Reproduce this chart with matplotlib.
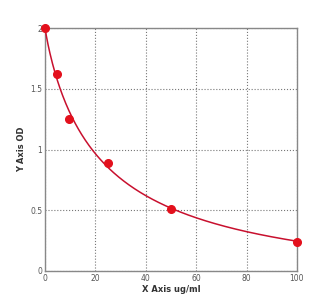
import numpy as np
import matplotlib
matplotlib.use('Agg')
import matplotlib.pyplot as plt

# standard curve points
conc = np.array([0, 4.9, 9.6, 25, 50, 100])
od = np.array([2.0, 1.62, 1.25, 0.89, 0.51, 0.24])

xticks = [0, 20, 40, 60, 80, 100]
yticks = [0, 0.5, 1, 1.5, 2]
yticklabels = ['0', '0.5', '1', '1.5', '2']


def fit_4pl(x, y):
    # grid over slope/midpoint, linear solve for top/bottom
    best = None
    for b in np.linspace(0.3, 3, 120):
        for c in np.linspace(1, 200, 400):
            g = 1.0 / (1.0 + (x / c) ** b)
            A = np.column_stack([g, 1 - g])
            coef, *_ = np.linalg.lstsq(A, y, rcond=None)
            err = np.sum((A @ coef - y) ** 2)
            if best is None or err < best[0]:
                best = (err, coef[0], coef[1], b, c)
    _, a, d, b, c = best
    return lambda t: d + (a - d) / (1.0 + (t / c) ** b)


f = fit_4pl(conc, od)
xx = np.linspace(0, 100, 400)

fig = plt.figure(figsize=(3.21, 2.99), dpi=100)
ax = fig.add_axes([0.140, 0.094, 0.785, 0.812])

ax.plot(xx, f(xx), color='#c8102e', lw=1.1, zorder=3)
ax.plot(conc, od, 'o', color='#e3101c', ms=5.5, zorder=4, clip_on=False)

ax.set_xlim(0, 100)
ax.set_ylim(0, 2)
ax.set_xticks(xticks)
ax.set_yticks(yticks)
ax.set_yticklabels(yticklabels)
ax.tick_params(length=0, labelsize=5.5, colors='#555555', pad=2)
ax.grid(True, ls=':', color='#777777', lw=0.8)
for s in ax.spines.values():
    s.set_color('#888888')
    s.set_linewidth(1.0)

ax.set_xlabel('X Axis ug/ml', fontsize=6, fontweight='bold', labelpad=2, color='#333333')
ax.set_ylabel('Y Axis OD', fontsize=6, fontweight='bold', labelpad=3, color='#333333')

fig.savefig('out.png', dpi=100)
